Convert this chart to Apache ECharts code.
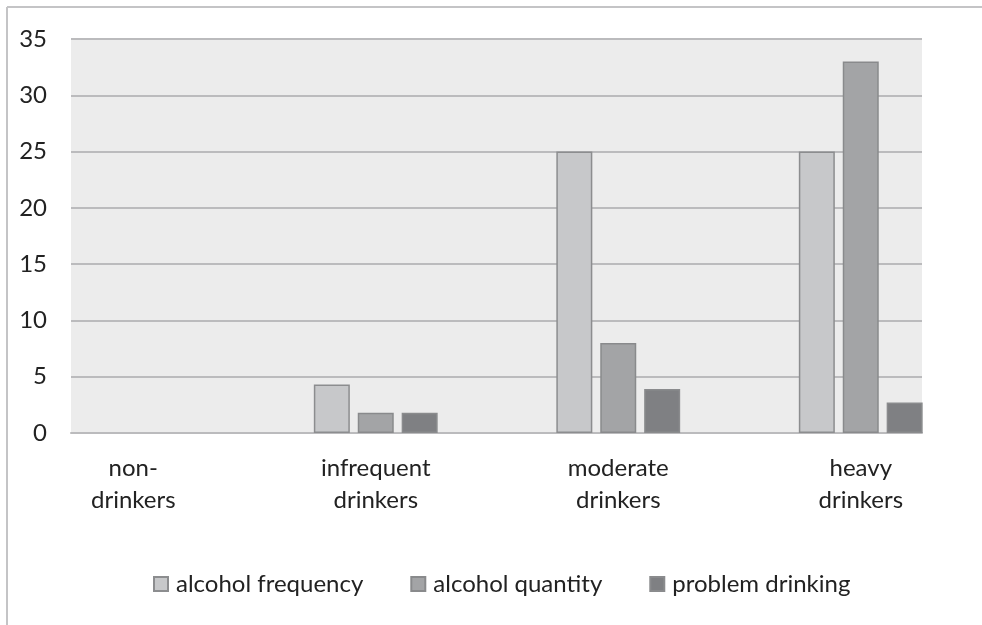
<!DOCTYPE html>
<html>
<head>
<meta charset="utf-8">
<script src="https://cdn.jsdelivr.net/npm/echarts@6/dist/echarts.min.js"></script>
<style>
  html, body { margin: 0; padding: 0; background: #ffffff; }
  #chart { width: 982px; height: 625px; }
</style>
</head>
<body>
<div id="chart"></div>
<script>
// Drinking groups along the x axis
const categories = ['non-\ndrinkers', 'infrequent\ndrinkers', 'moderate\ndrinkers', 'heavy\ndrinkers'];

// Series values per drinking group
const alcoholFrequency = [0, 4.3, 25, 25];
const alcoholQuantity = [0, 1.8, 8, 33];
const problemDrinking = [0, 1.8, 3.9, 2.7];

// Value axis ticks
const yTicks = [0, 5, 10, 15, 20, 25, 30, 35];

const FONT = 'Lato';
const FONT_SIZE = 24;
const TEXT = '#222222';
const GRID_LINE = '#bbbbbd';

const chart = echarts.init(document.getElementById('chart'), null, { renderer: 'canvas' });

function barSeries(name, values, fill, border) {
  return {
    name: name,
    type: 'bar',
    xAxisIndex: 1,
    yAxisIndex: 1,
    // zero-height bars get no outline so they stay invisible
    data: values.map(v => v === 0 ? { value: v, itemStyle: { borderWidth: 0 } } : v),
    barWidth: 36,
    barGap: '22%',
    itemStyle: { color: fill, borderColor: border, borderWidth: 1.5 },
    emphasis: { disabled: true }
  };
}

chart.setOption({
  animation: false,
  backgroundColor: '#ffffff',
  textStyle: { fontFamily: FONT, color: TEXT },
  graphic: [
    // outer frame: left and top edges
    { type: 'line', shape: { x1: 7, y1: 7, x2: 7, y2: 625 }, style: { stroke: '#c4c4c6', lineWidth: 2 }, silent: true },
    { type: 'line', shape: { x1: 7, y1: 7, x2: 982, y2: 7 }, style: { stroke: '#c4c4c6', lineWidth: 2 }, silent: true }
  ],
  grid: [
    // plot panel with the value scale and gridlines
    { left: 71, right: 60, top: 39, bottom: 192, show: true, backgroundColor: '#ececec', borderWidth: 0 },
    // layout used for the category bands
    { left: 12, right: 0, top: 39, bottom: 192 }
  ],
  legend: {
    left: 153,
    top: 572,
    padding: 0,
    itemWidth: 14,
    itemHeight: 14,
    itemGap: 47,
    icon: 'rect',
    textStyle: { fontFamily: FONT, fontSize: FONT_SIZE, color: TEXT, padding: [0, 0, 0, 3] },
    data: ['alcohol frequency', 'alcohol quantity', 'problem drinking']
  },
  xAxis: [
    {
      gridIndex: 0,
      type: 'category',
      data: categories,
      axisLine: { show: true, lineStyle: { color: GRID_LINE, width: 2 } },
      axisTick: { show: false },
      axisLabel: { show: false },
      splitLine: { show: false }
    },
    {
      gridIndex: 1,
      type: 'category',
      data: categories,
      axisLine: { show: false },
      axisTick: { show: false },
      axisLabel: {
        show: true,
        margin: 19,
        fontFamily: FONT,
        fontSize: FONT_SIZE,
        lineHeight: 32,
        color: TEXT,
        interval: 0,
        align: 'center'
      },
      splitLine: { show: false }
    }
  ],
  yAxis: [
    {
      gridIndex: 0,
      type: 'value',
      min: yTicks[0],
      max: yTicks[yTicks.length - 1],
      interval: 5,
      axisLine: { show: false },
      axisTick: { show: false },
      axisLabel: { margin: 24, fontFamily: FONT, fontSize: FONT_SIZE, color: TEXT },
      splitLine: { show: true, lineStyle: { color: GRID_LINE, width: 2 } }
    },
    {
      gridIndex: 1,
      type: 'value',
      min: yTicks[0],
      max: yTicks[yTicks.length - 1],
      interval: 5,
      show: false,
      splitLine: { show: false }
    }
  ],
  series: [
    barSeries('alcohol frequency', alcoholFrequency, '#c7c8ca', '#8c8d8f'),
    barSeries('alcohol quantity', alcoholQuantity, '#a3a4a6', '#898a8c'),
    barSeries('problem drinking', problemDrinking, '#7f8083', '#8a8b8d')
  ]
});
</script>
</body>
</html>
